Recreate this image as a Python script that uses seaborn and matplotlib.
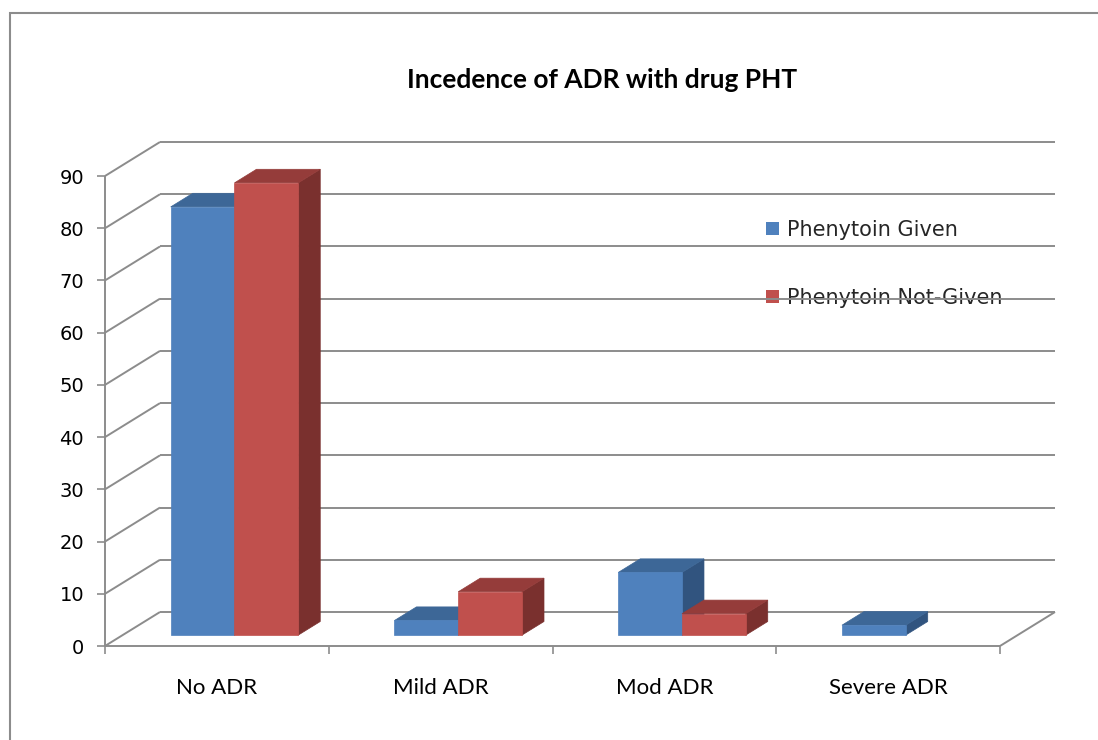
import numpy as np
import pandas as pd
import matplotlib
matplotlib.use("Agg")
import matplotlib.pyplot as plt
import seaborn as sns
from matplotlib.patches import Rectangle, Polygon
from matplotlib.lines import Line2D
from matplotlib.transforms import IdentityTransform

categories = ["No ADR", "Mild ADR", "Mod ADR", "Severe ADR"]
series = ["Phenytoin Given", "Phenytoin Not-Given"]
given = [82.0, 2.8, 12.0, 1.9]
not_given = [86.6, 8.3, 4.1, 0.0]
yticks = [0, 10, 20, 30, 40, 50, 60, 70, 80, 90]

front_cols = ["#4F81BD", "#C0504D"]
top_cols = ["#3D6797", "#953C3A"]
side_cols = ["#31547F", "#7A302E"]
grid_col = "#8C8C8C"

df = pd.DataFrame({
    "category": categories * 2,
    "value": given + not_given,
    "series": [series[0]] * 4 + [series[1]] * 4,
})

sns.set_style("white")
plt.rcParams["font.family"] = ["DejaVu Sans"]

W, H = 1098, 740
fig = plt.figure(figsize=(W / 100, H / 100), dpi=100)
ax = fig.add_axes([105 / W, 94 / H, 895 / W, 470 / H])

sns.barplot(data=df, x="category", y="value", hue="series", order=categories,
            hue_order=series, palette=front_cols, width=0.57, saturation=1,
            gap=0, ax=ax, legend=False, err_kws={"linewidth": 0})
ax.set_xlim(-0.5, 3.5)
ax.set_ylim(0, 90)
ax.set_xlabel("")
ax.set_ylabel("")
for s in ax.spines.values():
    s.set_visible(False)
ax.patch.set_alpha(0)

# depth offsets in pixels (display coords, y up)
DX, DY = 55.0, 34.0
f0, f1 = 0.32, 0.72

def P(x, y, f=0.0):
    px, py = ax.transData.transform((x, y))
    return (px + f * DX, py + f * DY)

def line(p, q, z=1, lw=1.4):
    fig.add_artist(Line2D([p[0], q[0]], [p[1], q[1]], transform=IdentityTransform(),
                          color=grid_col, lw=lw, zorder=z, solid_capstyle="butt"))

x0, x1 = ax.get_xlim()
for v in yticks:
    line(P(x0, v, 1), P(x1, v, 1))
    line(P(x0, v), P(x0, v, 1))
# axes front lines
line(P(x0, 0), P(x0, 90))
line(P(x0, 0), P(x1, 0))
line(P(x1, 0), P(x1, 0, 1))

# 3D bars
bars = sorted([p for p in ax.patches if isinstance(p, Rectangle)], key=lambda r: r.get_x())
for i, r in enumerate(bars):
    x, w, h = r.get_x(), r.get_width(), r.get_height()
    col = r.get_facecolor()
    k = 0 if np.allclose(col[:3], matplotlib.colors.to_rgb(front_cols[0]), atol=0.02) else 1
    z = 10 + 3 * i
    r.set_visible(False)
    if h <= 0:
        continue
    front = [P(x, 0, f0), P(x + w, 0, f0), P(x + w, h, f0), P(x, h, f0)]
    top = [P(x, h, f0), P(x + w, h, f0), P(x + w, h, f1), P(x, h, f1)]
    side = [P(x + w, 0, f0), P(x + w, 0, f1), P(x + w, h, f1), P(x + w, h, f0)]
    for pts, c, zz in [(side, side_cols[k], z), (top, top_cols[k], z + 1), (front, front_cols[k], z + 2)]:
        fig.add_artist(Polygon(pts, closed=True, transform=IdentityTransform(),
                               facecolor=c, edgecolor=c, lw=0.5, zorder=zz))

# ticks
ax.set_yticks(yticks)
ax.set_yticklabels([str(v) for v in yticks])
ax.tick_params(axis="y", left=True, length=6, width=1.2, color=grid_col,
               labelsize=14, pad=9, labelcolor="black")
ax.set_xticks(range(len(categories)))
ax.set_xticklabels(categories, fontfamily="Lato", fontsize=16)
ax.set_xticks(np.arange(-0.5, 3.6, 1.0), minor=True)
ax.tick_params(axis="x", which="major", length=0, pad=23, labelcolor="black")
ax.tick_params(axis="x", which="minor", bottom=True, length=6, width=1.2, color=grid_col)

# legend
handles = [Rectangle((0, 0), 1, 1, facecolor=c, edgecolor="none") for c in front_cols]
ax.legend(handles, series, loc="center left", bbox_to_anchor=(766 / W, (H - 264) / H),
          bbox_transform=fig.transFigure, frameon=False, fontsize=15,
          labelspacing=2.3, handlelength=0.6, handleheight=0.6,
          handletextpad=0.4, borderpad=0, borderaxespad=0)

fig.text(602 / W, (H - 80) / H, "Incedence of ADR with drug PHT", ha="center", va="center",
         fontfamily="Lato", fontweight="bold", fontsize=19, color="black")

fig.add_artist(Rectangle((10 / W, -0.1), 1.2, (H - 13) / H + 0.1, transform=fig.transFigure,
                         fill=False, edgecolor=grid_col, lw=1.5))

fig.savefig("out.png", dpi=100)
